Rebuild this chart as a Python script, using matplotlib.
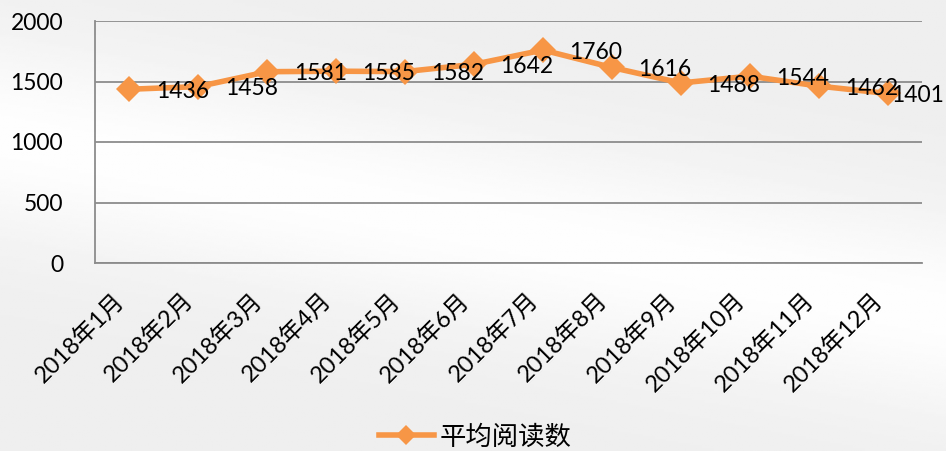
import matplotlib
matplotlib.use("Agg")
import matplotlib.pyplot as plt
import matplotlib.transforms as mtransforms
import numpy as np

months = ["2018年1月", "2018年2月", "2018年3月", "2018年4月", "2018年5月", "2018年6月",
          "2018年7月", "2018年8月", "2018年9月", "2018年10月", "2018年11月", "2018年12月"]
reads = [1436, 1458, 1581, 1585, 1582, 1642, 1760, 1616, 1488, 1544, 1462, 1401]
series_name = "平均阅读数"
yticks = [0, 500, 1000, 1500, 2000]

fonts = ["Lato", "Noto Sans CJK SC", "DejaVu Sans"]
plt.rcParams["font.family"] = fonts

W, H = 946, 451
fig = plt.figure(figsize=(W / 100, H / 100), dpi=100)
fig.patch.set_facecolor("#f3f3f3")

# subtle background
bg = fig.add_axes([0, 0, 1, 1], zorder=-10)
yy, xx = np.mgrid[0:1:200j, 0:1:400j]
band = np.exp(-((yy - (0.30 + 0.40 * xx)) ** 2) / 0.05)
img = 0.935 + 0.06 * band
bg.imshow(img, cmap="gray", vmin=0, vmax=1, aspect="auto", extent=[0, 1, 0, 1])
bg.axis("off")

ax = fig.add_axes([95 / W, 1 - 263 / H, (922 - 95) / W, (263 - 21) / H])
ax.patch.set_alpha(0)
x = np.arange(len(months))
color = "#F79646"
line, = ax.plot(x, reads, color=color, lw=4, marker="D", markersize=13,
                markeredgewidth=0, zorder=3, label=series_name)
labels = []
for xi, v in zip(x, reads):
    t = ax.annotate(str(v), (xi, v), xytext=(19, -1.5), textcoords="offset points",
                    ha="left", va="center", fontsize=16.5, color="black", zorder=4,
                    annotation_clip=False)
    labels.append(t)

ax.set_xlim(-0.5, len(months) - 0.5)
ax.set_ylim(0, 2000)
ax.set_yticks(yticks)
ax.set_yticklabels([str(t) for t in yticks], fontsize=16.5)
ax.set_xticks(x)
ax.set_xticklabels(months, rotation=45, ha="right", va="top", fontsize=17)
shift = mtransforms.ScaledTranslation(5 / 100, 0, fig.dpi_scale_trans)
for lbl in ax.get_xticklabels():
    lbl.set_transform(lbl.get_transform() + shift)
ax.tick_params(axis="both", length=0)
ax.tick_params(axis="y", pad=23)
ax.tick_params(axis="x", pad=19)
ax.grid(axis="y", color="#8c8c8c", lw=1.3)
ax.set_axisbelow(True)
for s in ["top", "right"]:
    ax.spines[s].set_visible(False)
ax.spines["left"].set_color("#8c8c8c")
ax.spines["left"].set_linewidth(1.3)
ax.spines["bottom"].set_color("#8c8c8c")
ax.spines["bottom"].set_linewidth(1.3)

leg = fig.legend(handles=[line], labels=[series_name], loc="center",
                 bbox_to_anchor=(475 / W, 1 - 437 / H), frameon=False,
                 handlelength=2.1, handletextpad=0.2, markerscale=0.8,
                 prop={"family": ["Noto Sans CJK SC"], "size": 19})

# keep data labels inside the figure (like the reference's last label)
fig.canvas.draw()
r = fig.canvas.get_renderer()
for t in labels:
    bb = t.get_window_extent(r)
    if bb.x1 > W - 2:
        shift_px = bb.x1 - (W - 2)
        ox, oy = t.xyann
        t.xyann = (ox - shift_px * 72 / 100, oy)

fig.savefig("out.png", dpi=100)
